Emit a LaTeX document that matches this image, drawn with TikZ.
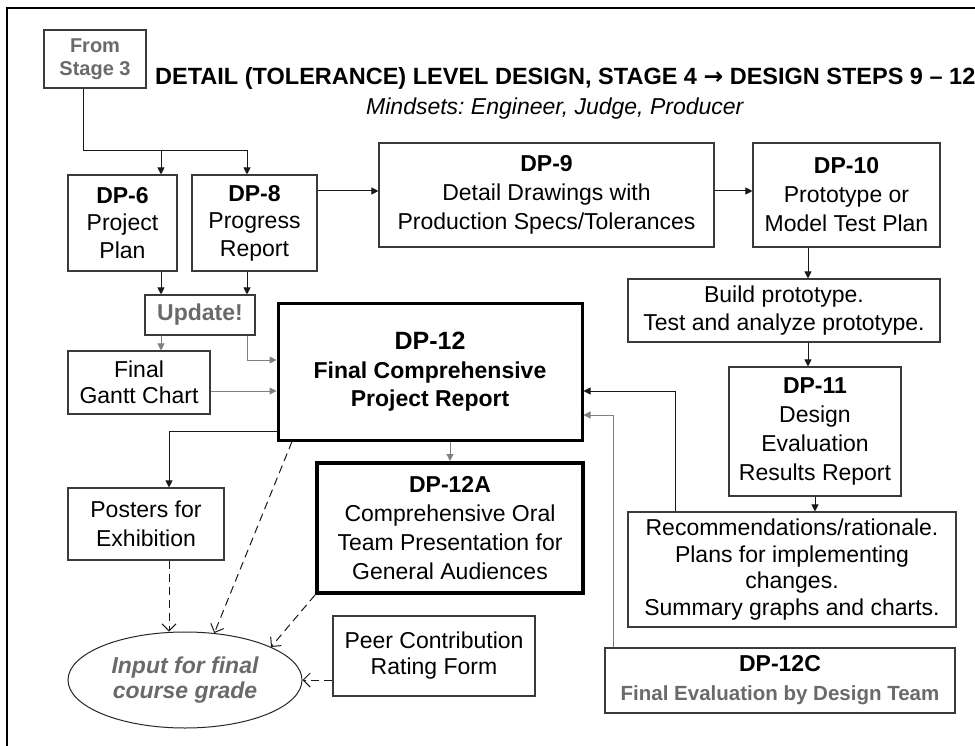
\documentclass[tikz,border=0pt]{standalone}
\usepackage{fontspec}
\setmainfont{Liberation Sans}
\newfontfamily\symfont{DejaVu Sans}
\usetikzlibrary{arrows.meta,shapes.geometric}
\definecolor{txtgray}{HTML}{6A6A6A}
\definecolor{linegray}{HTML}{808080}
\definecolor{boxline}{HTML}{3A3A3A}
\frenchspacing

\begin{document}
\begin{tikzpicture}[x=1pt,y=-1pt,
  box/.style={draw=boxline, line width=1.1pt, align=center, inner sep=0pt,
    font=\fontsize{23}{27.5}\selectfont},
  heavybox/.style={box, draw=black, line width=3pt},
  heavierbox/.style={box, draw=black, line width=4pt},
  arr/.style={draw=black!90, line width=1pt, -{Triangle[length=7pt,width=7pt]}},
  garr/.style={draw=linegray, line width=1pt, -{Triangle[length=7pt,width=7pt]}},
  darr/.style={draw=black!90, line width=1pt, dash pattern=on 8pt off 5pt,
    -{Straight Barb[length=7pt,width=14pt]}}]
\useasboundingbox (0,0) rectangle (975,746);

% outer frame
\draw[line width=2.2pt] (7,746) -- (7,8) -- (975,8);

% headings
\node[anchor=base west, inner sep=0pt, font=\bfseries\fontsize{23.5}{27}\selectfont] (title) at (155,85)
  {DETAIL (TOLERANCE) LEVEL DESIGN, STAGE 4 {\symfont →} DESIGN STEPS 9 – 12};
\node[anchor=base west, inner sep=0pt, font=\itshape\fontsize{23}{27}\selectfont] (sub) at (366,115)
  {Mindsets: Engineer, Judge, Producer};

% boxes
\node[box, minimum width=102, minimum height=58, text=txtgray,
  font=\bfseries\fontsize{20}{23}\selectfont] (from) at (95,59) {From\\Stage 3};
\node[box, minimum width=109, minimum height=96] (dp6) at (122.5,223)
  {\textbf{DP-6}\\Project\\Plan};
\node[box, minimum width=125, minimum height=96] (dp8) at (254.5,223)
  {\textbf{DP-8}\\Progress\\Report};
\node[box, minimum width=335, minimum height=104, font=\fontsize{23}{29}\selectfont] (dp9) at (546.5,195)
  {\textbf{DP-9}\\Detail Drawings with\\Production Specs/Tolerances};
\node[box, minimum width=187, minimum height=104, font=\fontsize{23}{29}\selectfont] (dp10) at (846.5,195)
  {\textbf{DP-10}\\Prototype or\\Model Test Plan};
\node[box, minimum width=312, minimum height=63] (build) at (784,310.5)
  {Build prototype.\\Test and analyze prototype.};
\node[box, minimum width=172, minimum height=129, font=\fontsize{23}{29}\selectfont] (dp11) at (815,431.5)
  {\textbf{DP-11}\\Design\\Evaluation\\Results Report};
\node[box, minimum width=328, minimum height=115, font=\fontsize{23}{26.5}\selectfont] (rec) at (792,569.5)
  {Recommendations/rationale.\\Plans for implementing\\changes.\\Summary graphs and charts.};
\node[box, minimum width=350, minimum height=65, font=\fontsize{20.5}{29}\selectfont] (dp12c) at (780,680.5)
  {{\bfseries\fontsize{23}{29}\selectfont DP-12C}\\\textcolor{txtgray}{\bfseries Final Evaluation by Design Team}};
\node[heavybox, minimum width=304, minimum height=137, font=\bfseries\fontsize{23}{27.5}\selectfont] (dp12) at (430,371.5)
  {{\fontsize{25}{30}\selectfont DP-12}\\[2pt]Final Comprehensive\\Project Report};
\node[box, minimum width=110, minimum height=40, text=txtgray,
  font=\bfseries\fontsize{23}{27}\selectfont] (upd) at (200,315) {Update!};
\node[box, minimum width=142, minimum height=63, font=\fontsize{23}{25.5}\selectfont] (gantt) at (139,382.5)
  {Final\\Gantt Chart};
\node[box, minimum width=156, minimum height=72, font=\fontsize{23}{29}\selectfont] (posters) at (146,524)
  {Posters for\\Exhibition};
\node[heavierbox, minimum width=266, minimum height=130, font=\fontsize{23}{29}\selectfont] (dp12a) at (450,528)
  {\textbf{DP-12A}\\Comprehensive Oral\\Team Presentation for\\General Audiences};
\node[box, minimum width=202, minimum height=80, font=\fontsize{23}{26}\selectfont] (peer) at (434,656)
  {Peer Contribution\\Rating Form};
\node[ellipse, draw=black!85, line width=1pt, minimum width=234, minimum height=96, inner sep=0pt,
  align=center, text=txtgray, font=\bfseries\itshape\fontsize{23}{25}\selectfont] (grade) at (185,680)
  {Input for final\\course grade};

% routing columns and rows
\coordinate (j1) at (83,151);
\coordinate (c1) at (161,0);
\coordinate (c2) at (247,0);
\coordinate (c3) at (808,0);
\coordinate (c4) at (815,0);
\coordinate (c5) at (675,0);
\coordinate (c6) at (613,0);
\coordinate (c7) at (169,0);
\coordinate (c8) at (450,0);
\coordinate (c9) at (292,0);
\coordinate (r1) at (0,191);
\coordinate (r2) at (0,360);
\coordinate (r3) at (0,391);
\coordinate (r4) at (0,415);
\coordinate (r5) at (0,431);

% connectors
\draw[line width=1pt, draw=black!90] (from.south -| j1) -- (j1);
\draw[arr] (j1) -| (dp6.north -| c1);
\draw[arr] (j1) -| (dp8.north -| c2);
\draw[arr] (dp8.east |- r1) -- (dp9.west |- r1);
\draw[arr] (dp9.east |- r1) -- (dp10.west |- r1);
\draw[arr] (dp10.south -| c3) -- (build.north -| c3);
\draw[arr] (build.south -| c3) -- (dp11.north -| c3);
\draw[arr] (dp11.south -| c4) -- (rec.north -| c4);
\draw[arr] (dp6.south -| c1) -- (upd.north -| c1);
\draw[arr] (dp8.south -| c2) -- (upd.north -| c2);
\draw[garr] (upd.south -| c1) -- (gantt.north -| c1);
\draw[garr] (upd.south -| c2) |- (dp12.west |- r2);
\draw[garr] (gantt.east |- r3) -- (dp12.west |- r3);
\draw[arr] (rec.north -| c5) |- (dp12.east |- r3);
\draw[garr] (dp12c.north -| c6) |- (dp12.east |- r4);
\draw[arr] (dp12.west |- r5) -| (posters.north -| c7);
\draw[garr] (dp12.south -| c8) -- (dp12a.north);
\draw[darr] (posters.south -| c7) -- (grade.north -| c7);
\draw[darr] (dp12.south -| c9) -- (grade.58);
\draw[darr] (dp12a.south west) -- (grade.21);
\draw[darr] (peer.west |- grade.east) -- (grade.east);
\end{tikzpicture}
\end{document}
